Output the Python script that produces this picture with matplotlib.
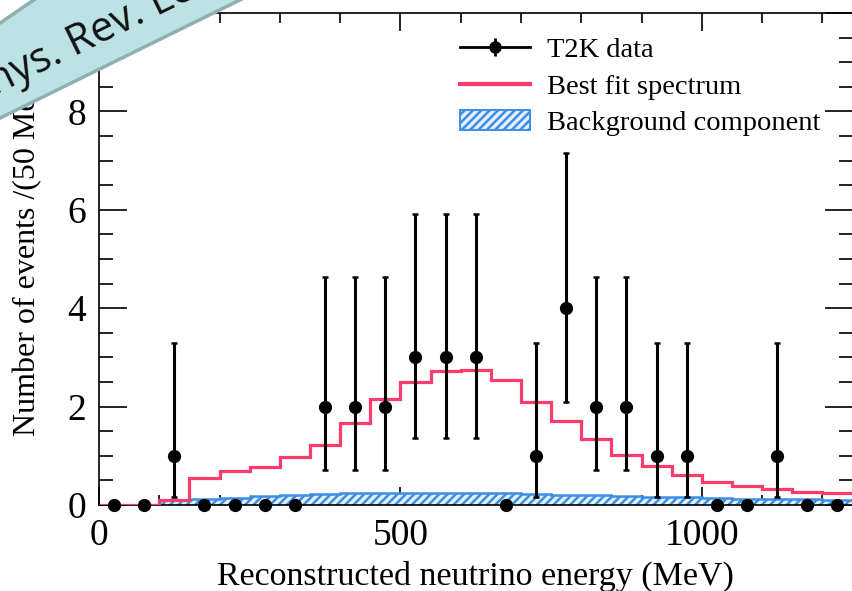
import numpy as np
import matplotlib
matplotlib.use("Agg")
import matplotlib.pyplot as plt
from matplotlib.lines import Line2D
from matplotlib.patches import Patch, Polygon
from matplotlib.transforms import IdentityTransform
from matplotlib.ticker import MultipleLocator

# 50 MeV bins, 0-1250 MeV
edges = np.arange(0, 1251, 50)
centers = edges[:-1] + 25

counts = [0, 0, 1, 0, 0, 0, 0, 2, 2, 2, 3, 3, 3, 0, 1, 4, 2, 2, 1, 1, 0, 0, 1, 0, 0]
err_lo = [0, 0, 0.17, 0, 0, 0, 0, 0.71, 0.71, 0.71, 1.37, 1.37, 1.37, 0, 0.17, 2.09,
          0.71, 0.71, 0.17, 0.17, 0, 0, 0.17, 0, 0]
err_hi = [0, 0, 3.30, 0, 0, 0, 0, 4.64, 4.64, 4.64, 5.92, 5.92, 5.92, 0, 3.30, 7.16,
          4.64, 4.64, 3.30, 3.30, 0, 0, 3.30, 0, 0]

best_fit = [0.0, 0.0, 0.1, 0.55, 0.69, 0.78, 0.98, 1.22, 1.67, 2.15, 2.5, 2.72, 2.75,
            2.54, 2.09, 1.70, 1.35, 1.02, 0.79, 0.61, 0.47, 0.39, 0.33, 0.27, 0.24]
background = [0.0, 0.0, 0.1, 0.13, 0.15, 0.18, 0.21, 0.22, 0.24, 0.25, 0.25, 0.25, 0.25,
              0.24, 0.23, 0.21, 0.20, 0.18, 0.17, 0.16, 0.14, 0.13, 0.13, 0.12, 0.11]

RED = "#fb3c6c"
BLUE = "#3a8fe5"

W, H = 852, 591
fig = plt.figure(figsize=(W / 100, H / 100), dpi=100)
ax = fig.add_axes([99 / W, 1 - 505 / H, 753.5 / W, 492 / H])
plt.rcParams["hatch.linewidth"] = 1.8

ax.stairs(background, edges, fill=True, facecolor="#e4f0fc", edgecolor=BLUE,
          hatch="////", linewidth=0, zorder=2)
ax.stairs(background, edges, color=BLUE, linewidth=1.8, zorder=2.5)
ax.stairs(best_fit, edges, color=RED, linewidth=2.3, zorder=3)

counts = np.array(counts, float)
lo = np.array(err_lo)
hi = np.array(err_hi)
has = counts > 0
ax.errorbar(centers[has], counts[has], yerr=[counts[has] - lo[has], hi[has] - counts[has]],
            fmt="none", ecolor="black", elinewidth=2.2, capsize=2.5, capthick=1.8,
            zorder=4)
ax.plot(centers, counts, "o", color="black", ms=8.5, zorder=5, clip_on=False)

ax.set_xlim(0, 1250)
ax.set_ylim(0, 10)
ax.xaxis.set_major_locator(MultipleLocator(500))
ax.xaxis.set_minor_locator(MultipleLocator(100))
ax.yaxis.set_major_locator(MultipleLocator(2))
ax.yaxis.set_minor_locator(MultipleLocator(0.5))
ax.tick_params(which="both", direction="in", top=True, right=True, width=1.2,
               labelsize=27, labelfontfamily="Liberation Serif")
ax.tick_params(axis="x", which="major", length=13, pad=10)
ax.tick_params(axis="x", which="minor", length=7)
ax.tick_params(axis="y", which="major", length=20, pad=9)
ax.tick_params(axis="y", which="minor", length=10)
for s in ax.spines.values():
    s.set_linewidth(1.2)

ax.set_xlabel("Reconstructed neutrino energy (MeV)", fontsize=24.5,
              family="Liberation Serif", labelpad=5)
ax.set_ylabel("Number of events /(50 MeV)", fontsize=23,
              family="Liberation Serif")
ax.yaxis.set_label_coords(-0.075, 0.52)

h_data = (Line2D([], [], color="black", lw=2.0, marker="o", ms=8),
          Line2D([], [], ls="none", color="black", marker="|", ms=13, mew=2.0))
h_fit = Line2D([], [], color=RED, lw=3)
h_bg = Patch(facecolor="#e4f0fc", edgecolor=BLUE, hatch="////", lw=1.4)
ax.legend([h_data, h_fit, h_bg], ["T2K data", "Best fit spectrum", "Background component"],
          loc="upper left", bbox_to_anchor=(449 / W, 1 - 26 / H),
          bbox_transform=fig.transFigure, frameon=False,
          prop={"family": "Liberation Serif", "size": 20.5},
          handlelength=2.45, handletextpad=0.6, labelspacing=0.37, borderaxespad=0)

# corner banner, drawn in output pixels (y measured from top)
ident = IdentityTransform()
band = [(-10, 123), (250, -5), (41, -5), (-10, 30)]
band = [(x, H - y) for x, y in band]
fig.patches.append(Polygon(band, closed=True, facecolor="#bde2e5", edgecolor="#8fb0b0",
                           linewidth=2.5, transform=ident, zorder=10))
fig.text(103, H - 42, "Phys. Rev. Lett.", transform=ident, rotation=26,
         rotation_mode="anchor", ha="center", va="baseline", fontsize=30,
         family="Open Sans", color="#111111", zorder=11)

fig.savefig("out.png", dpi=100)
